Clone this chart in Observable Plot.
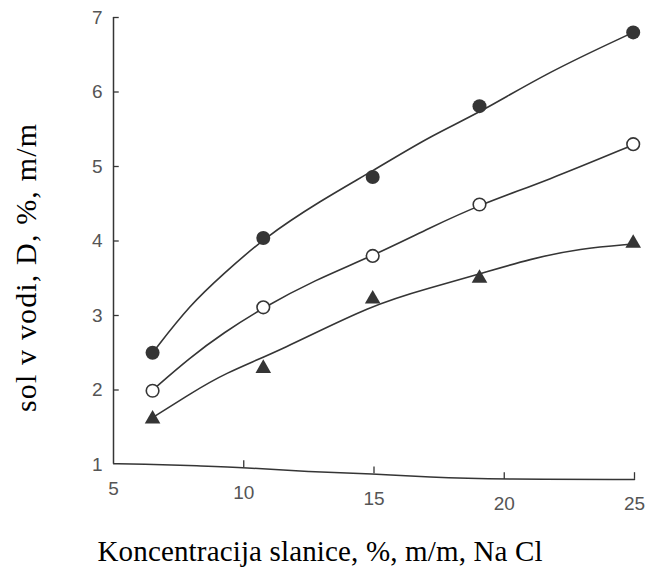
<!DOCTYPE html>
<html>
<head>
<meta charset="utf-8">
<script src="https://cdn.jsdelivr.net/npm/d3@7"></script>
<script src="https://cdn.jsdelivr.net/npm/@observablehq/plot@0.6"></script>
<style>
  html, body { margin: 0; padding: 0; background: #fff; }
  #chart svg { display: block; }
</style>
</head>
<body>
<div id="chart"></div>
<script>
// measured points
const xValues = [6.5, 10.75, 14.95, 19.05, 24.95];
const filledValues = [2.50, 4.04, 4.86, 5.81, 6.80];
const openValues = [1.99, 3.11, 3.80, 4.49, 5.30];
const triangleValues = [1.61, 2.29, 3.22, 3.50, 3.97];

// hand-drawn fitted curves
const filledCurveX = [6.5, 7.95, 9.23, 10.77, 12.94, 14.95, 17.16, 19.05, 21.64, 24.95];
const filledCurveY = [2.50, 3.15, 3.56, 4.04, 4.54, 4.94, 5.41, 5.72, 6.26, 6.80];
const openCurveX = [6.5, 7.95, 9.23, 10.77, 12.69, 14.95, 17.16, 19.08, 21.64, 24.95];
const openCurveY = [2.00, 2.44, 2.77, 3.11, 3.47, 3.80, 4.18, 4.49, 4.81, 5.29];
const triangleCurveX = [6.5, 7.95, 9.23, 11.41, 14.95, 17.16, 19.08, 21.0, 22.9, 24.95];
const triangleCurveY = [1.63, 1.95, 2.22, 2.53, 3.15, 3.37, 3.56, 3.76, 3.90, 3.96];

// axes (scanned, slightly wavy baseline)
const xTicks = [5, 10, 15, 20, 25];
const xTickBase = [1.01, 0.96, 0.875, 0.80, 0.80];
const yTicks = [1, 2, 3, 4, 5, 6, 7];
const baselineX = [5, 6, 8.3, 10, 12.5, 15, 17, 20, 25];
const baselineY = [1.01, 1.01, 0.98, 0.96, 0.90, 0.875, 0.83, 0.80, 0.80];

const xTitle = "Koncentracija slanice, %, m/m, Na Cl";
const yTitle = "sol v vodi, D, %, m/m";

const ink = "#353535";
const tickInk = "#555";
const sans = "'Liberation Sans', Arial, Helvetica, sans-serif";
const serif = "'Liberation Serif', 'Times New Roman', serif";

const pts = (ys) => xValues.map((x, i) => ({x, y: ys[i]}));
const crv = (xs, ys) => xs.map((x, i) => ({x, y: ys[i]}));

const tickMarks = xTicks.map((x, i) => ({x, base: xTickBase[i]})).filter(d => d.x !== 5);

const chart = Plot.plot({
  width: 649,
  height: 569,
  marginLeft: 113,
  marginRight: 15,
  marginTop: 17,
  marginBottom: 105,
  x: {domain: [5, 25], axis: null},
  y: {domain: [1, 7], axis: null},
  style: {fontFamily: sans, background: "#fff"},
  marks: [
    // axis lines
    Plot.ruleX([5], {y1: 1.01, y2: 7, stroke: ink, strokeWidth: 1.5}),
    Plot.line(crv(baselineX, baselineY), {x: "x", y: "y", curve: "basis", stroke: ink, strokeWidth: 1.5}),
    // inward ticks
    Plot.ruleY(yTicks.filter(d => d !== 1), {y: d => d, x1: 5, x2: 5.22, stroke: ink, strokeWidth: 1.3}),
    Plot.ruleX(tickMarks, {x: "x", y1: "base", y2: d => d.base + 0.09, stroke: ink, strokeWidth: 1.3}),
    // tick labels
    Plot.text(yTicks, {x: 5, y: d => d, text: d => String(d), textAnchor: "end", dx: -11, fontSize: 19, fill: tickInk}),
    Plot.text(xTicks.map((x, i) => ({x, base: xTickBase[i]})), {x: "x", y: "base", text: d => String(d.x), dy: 25, fontSize: 19, fill: tickInk}),
    // curves
    Plot.line(crv(filledCurveX, filledCurveY), {x: "x", y: "y", curve: "basis", stroke: ink, strokeWidth: 1.6}),
    Plot.line(crv(openCurveX, openCurveY), {x: "x", y: "y", curve: "basis", stroke: ink, strokeWidth: 1.6}),
    Plot.line(crv(triangleCurveX, triangleCurveY), {x: "x", y: "y", curve: "basis", stroke: ink, strokeWidth: 1.6}),
    // markers
    Plot.dot(pts(filledValues), {x: "x", y: "y", r: 7, fill: ink, stroke: "none"}),
    Plot.dot(pts(openValues), {x: "x", y: "y", r: 6.3, fill: "#fff", stroke: ink, strokeWidth: 1.6}),
    Plot.dot(pts(triangleValues), {x: "x", y: "y", r: 5.8, symbol: "triangle", fill: ink, stroke: "none"}),
    // titles
    Plot.text([xTitle], {frameAnchor: "bottom", textAnchor: "middle", dx: -54, dy: 87, fontSize: 29, fontFamily: serif, fill: "#000", lineAnchor: "middle"}),
    Plot.text([yTitle], {frameAnchor: "left", textAnchor: "middle", rotate: -90, dx: -87, dy: 27, fontSize: 30, fontFamily: serif, fill: "#000", lineAnchor: "middle"})
  ]
});

// stretch the scanned-looking titles to their measured lengths
d3.select(chart).selectAll("text").each(function () {
  const t = this.textContent;
  if (t === xTitle) { this.setAttribute("textLength", 445); this.setAttribute("lengthAdjust", "spacing"); }
  if (t === yTitle) { this.setAttribute("textLength", 288); this.setAttribute("lengthAdjust", "spacing"); }
});

document.getElementById("chart").appendChild(chart);
</script>
</body>
</html>
